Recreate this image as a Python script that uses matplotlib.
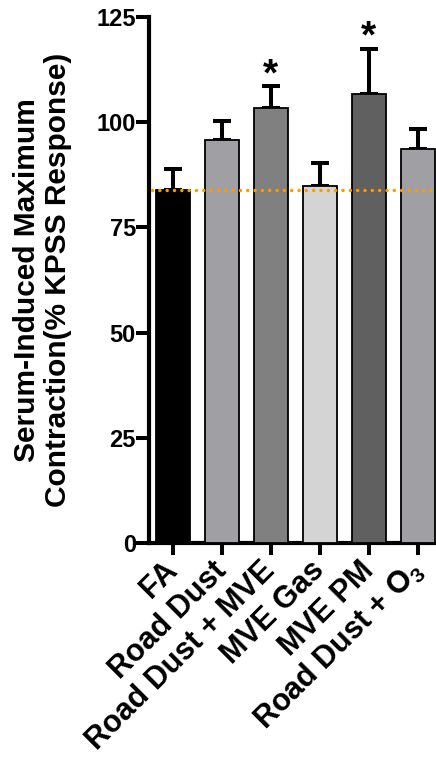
import matplotlib
matplotlib.use('Agg')
import matplotlib.pyplot as plt
import numpy as np

plt.rcParams['font.family'] = ['Liberation Sans', 'DejaVu Sans']
plt.rcParams['font.weight'] = 'bold'
plt.rcParams['mathtext.fontset'] = 'custom'
plt.rcParams['mathtext.rm'] = 'Liberation Sans:bold'
plt.rcParams['mathtext.bf'] = 'Liberation Sans:bold'

# values
groups = ['FA', 'Road Dust', 'Road Dust + MVE', 'MVE Gas', 'MVE PM', r'Road Dust + O$_\mathbf{3}$']
means = [83.8, 95.7, 103.4, 84.8, 106.6, 93.7]
sem = [5.0, 4.6, 5.1, 5.6, 10.9, 4.8]
colors = ['#000000', '#a0a0a4', '#808080', '#d4d4d4', '#606060', '#a0a0a4']
signif = [False, False, True, False, True, False]
fa_line = 83.9
yticks = [0, 25, 50, 75, 100, 125]

fig = plt.figure(figsize=(4.36, 7.59), dpi=100)
ax = fig.add_axes([149/436, 1 - 543/759, (436 - 149)/436, (543 - 17)/759])

x = np.arange(len(groups))
ax.errorbar(x, means, yerr=[np.zeros(len(sem)), sem], fmt='none', ecolor='black',
            elinewidth=2.9, capsize=6.8, capthick=2.9, zorder=2)
ax.bar(x, means, width=0.7, color=colors, edgecolor='black', linewidth=1.3, zorder=3)

ax.axhline(fa_line, color='#ff9900', linewidth=2.5, linestyle=(0, (0.01, 2.1)),
           dash_capstyle='round', zorder=4, xmin=0.01)

for i in range(len(groups)):
    if signif[i]:
        ax.annotate('*', (x[i], means[i] + sem[i]), xytext=(0, 1), textcoords='offset points',
                    ha='center', va='baseline', fontsize=28, fontweight='bold')

ax.set_xlim(-0.49, 5.37)
ax.set_ylim(0, 125)
ax.set_yticks(yticks)
ax.set_yticklabels([str(t) for t in yticks], fontsize=17, fontweight='bold')
ax.set_xticks(x)
ax.set_xticklabels(groups, fontsize=22, fontweight='bold', rotation=45,
                   ha='right', va='center', rotation_mode='anchor')

for s in ['top', 'right']:
    ax.spines[s].set_visible(False)
for s in ['left', 'bottom']:
    ax.spines[s].set_linewidth(3)
ax.tick_params(axis='y', length=9.4, width=2.9, pad=0)
ax.tick_params(axis='x', length=8.6, width=2.9, pad=8)

ax.set_ylabel('Serum-Induced Maximum\nContraction(% KPSS Response)', fontsize=21.5,
              fontweight='bold', linespacing=1.12)
ax.yaxis.set_label_coords(-0.268, 0.5)

fig.savefig('out.png', dpi=100)
